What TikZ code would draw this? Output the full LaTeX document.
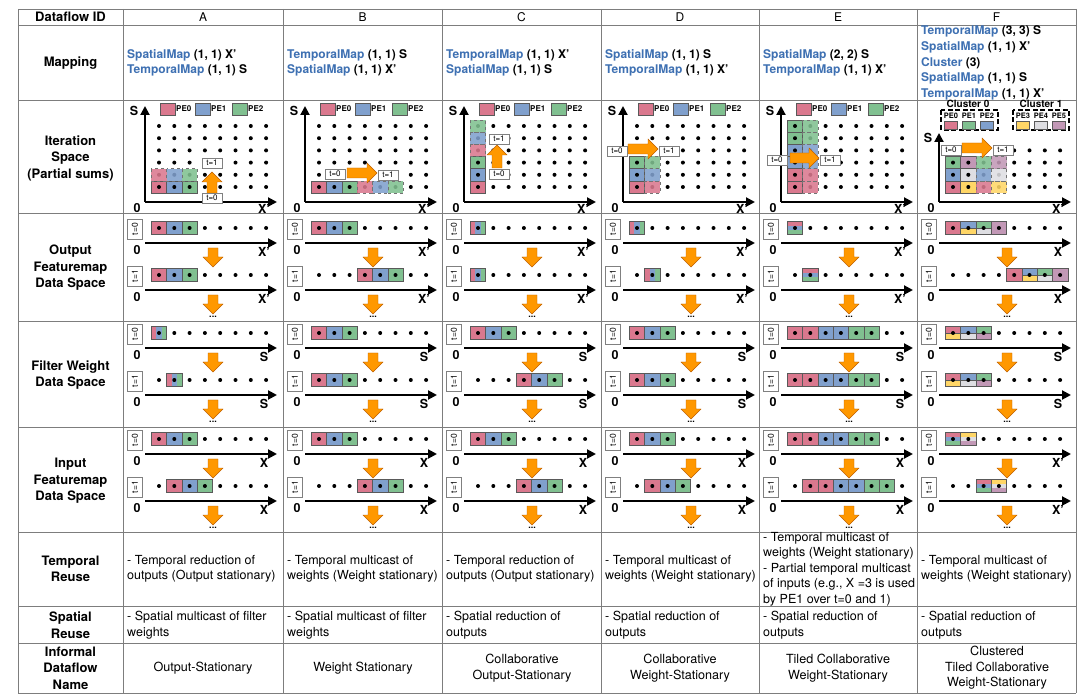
\documentclass[tikz,border=0pt]{standalone}
\usepackage{fontspec}
\setmainfont{TeX Gyre Heros}
\usepackage{xcolor}
\usepackage{tikz}
\usetikzlibrary{arrows.meta}

\definecolor{pezero}{RGB}{218,120,142}
\definecolor{peone}{RGB}{128,160,205}
\definecolor{petwo}{RGB}{128,192,144}
\definecolor{pethree}{RGB}{255,214,102}
\definecolor{pefour}{RGB}{222,222,226}
\definecolor{pefive}{RGB}{194,152,182}
\definecolor{mapblue}{RGB}{62,112,178}
\definecolor{gridgray}{RGB}{125,125,125}
\definecolor{arrorange}{RGB}{255,152,0}

\tikzset{
  gridline/.style={draw=gridgray, line width=0.7pt},
  rowhead/.style={font=\bfseries\fontsize{13}{16.5}\selectfont, align=center},
  colhead/.style={font=\fontsize{12}{14}\selectfont},
  maptext/.style={anchor=west, align=left, font=\bfseries\fontsize{12}{15.6}\selectfont, inner sep=0pt},
  reusetext/.style={anchor=west, align=left, font=\fontsize{12.5}{15.4}\selectfont, inner sep=0pt},
  nametext/.style={align=center, font=\fontsize{12.6}{15.6}\selectfont, inner sep=0pt},
  cellline/.style={draw=black!65, line width=0.5pt},
  ghost/.style={dashed, draw=black!55, fill opacity=0.88},
  axis/.style={line width=2pt, -{Triangle[length=9pt,width=9pt]}},
  axlabel/.style={font=\bfseries\fontsize{12.5}{13}\selectfont, inner sep=0pt},
  tbox/.style={draw=black!50, fill=white, font=\fontsize{8}{8}\selectfont, inner sep=0.5pt, minimum width=20pt, minimum height=10pt},
  ttall/.style={tbox, rotate=90, minimum height=15pt, font=\fontsize{8.5}{9}\selectfont},
  blk/.style={fill=arrorange, draw=orange!75!black, line width=0.4pt},
  pelabel/.style={font=\bfseries\fontsize{8}{8}\selectfont, inner sep=0.5pt, anchor=west},
  pelabelc/.style={font=\bfseries\fontsize{7.5}{8}\selectfont, inner sep=0pt},
  clusterlabel/.style={font=\bfseries\fontsize{10}{10}\selectfont, inner sep=0pt},
  clusterbox/.style={line width=1.6pt, dash pattern=on 5pt off 2.5pt},
  moredots/.style={font=\bfseries\fontsize{9}{9}\selectfont, inner sep=0pt}
}

\newcommand{\mapkw}[1]{\textcolor{mapblue}{#1}}

% block arrow: tail x, tail y, angle, length
\newcommand{\blkarrow}[4]{%
  \begin{scope}[shift={(#1,#2)},rotate=#3]
    \filldraw[blk] (0,-5) -- (#4-10,-5) -- (#4-10,-10) -- (#4,0) -- (#4-10,10) -- (#4-10,5) -- (0,5) -- cycle;
  \end{scope}}

% iteration space
\newcommand{\itcell}[4][]{\filldraw[cellline,fill=#4,#1] (28.35+15.3*#2,180.9-12.2*#3) rectangle ++(15.3,12.2);}
\newcommand{\itsolid}[3]{\itcell{#1}{#2}{#3}\fill (36+15.3*#1,187-12.2*#2) circle (2pt);}
\newcommand{\itghost}[3]{\itcell[ghost]{#1}{#2}{#3}}
\newcommand{\itgrid}[1]{\foreach \i in {0,...,7}{\foreach \j in {0,...,#1}{\fill (36+15.3*\i,187-12.2*\j) circle (2pt);}}}
\newcommand{\itaxes}[2]{%
  \coordinate (#1-org) at (22,202);
  \draw[axis] (#1-org) -- (22,#2);
  \draw[axis] (#1-org) -- (154,202);
  \node[axlabel] (#1-zero) at (14,208) {0};
  \node[axlabel] (#1-s) at (11,#2+5) {S};
  \node[axlabel] (#1-x) at (141,209) {X'};}
\newcommand{\pelegend}[1]{%
  \foreach \k/\c/\xx in {0/pezero/37,1/peone/72,2/petwo/109}{%
    \filldraw[cellline,fill=\c] (\xx,103) rectangle ++(15,12);
    \node[pelabel] (#1-pe\k) at (\xx+15.5,109) {PE\k};}}

% data spaces
\newcommand{\dcell}[3]{%
  \filldraw[cellline,fill=#3] (28.35+15.3*#1,#2-6.5) rectangle ++(15.3,13);
  \fill (36+15.3*#1,#2) circle (2pt);}
\newcommand{\cellrow}[3]{\foreach \c [count=\q from #1] in {#3}{\dcell{\q}{#2}{\c}}}
\newcommand{\dotrow}[2]{\foreach \i in {#1}{\fill (36+15.3*\i,#2) circle (2pt);}}
\newcommand{\dsplit}[4]{%
  \fill[#3] (28.35+15.3*#1,#2-6.5) rectangle ++(15.3,6.5);
  \fill[#4] (28.35+15.3*#1,#2) rectangle ++(15.3,6.5);
  \draw[cellline] (28.35+15.3*#1,#2-6.5) rectangle ++(15.3,13) (28.35+15.3*#1,#2) -- ++(15.3,0);
  \fill (36+15.3*#1,#2) circle (2pt);}
\newcommand{\dtri}[5]{%
  \fill[#3] (28.35+15.3*#1,#2-6.5) rectangle ++(15.3,4.34);
  \fill[#4] (28.35+15.3*#1,#2-2.17) rectangle ++(15.3,4.34);
  \fill[#5] (28.35+15.3*#1,#2+2.17) rectangle ++(15.3,4.33);
  \draw[cellline] (28.35+15.3*#1,#2-6.5) rectangle ++(15.3,13);
  \fill (36+15.3*#1,#2) circle (2pt);}
\newcommand{\dvert}[2]{%
  \fill[pezero] (28.35+15.3*#1,#2-6.5) rectangle ++(5.1,13);
  \fill[peone] (33.45+15.3*#1,#2-6.5) rectangle ++(5.1,13);
  \fill[petwo] (38.55+15.3*#1,#2-6.5) rectangle ++(5.1,13);
  \draw[cellline] (28.35+15.3*#1,#2-6.5) rectangle ++(15.3,13);
  \fill (36+15.3*#1,#2) circle (2pt);}
\newcommand{\dframe}[3]{%
  \draw[axis] (22,#2+15) -- (154,#2+15);
  \draw[axis] (22,#2+62) -- (154,#2+62);
  \node[ttall] (#1-t0) at (12,#2+1) {t=0};
  \node[ttall] (#1-t1) at (12,#2+48) {t=1};
  \node[axlabel] (#1-z0) at (14,#2+22) {0};
  \node[axlabel] (#1-z1) at (14,#2+69) {0};
  \node[axlabel] (#1-l0) at (141,#2+24) {#3};
  \node[axlabel] (#1-l1) at (141,#2+71) {#3};
  \blkarrow{90}{#2+20}{-90}{19}
  \blkarrow{90}{#2+67}{-90}{19}
  \node[moredots] (#1-more) at (90,#2+89) {...};}

\begin{document}
\begin{tikzpicture}[x=1pt,y=-1pt]
\useasboundingbox (0,0) rectangle (1090,700);

% Table
\foreach \yy in {9,25,100,213,321,427,532,606,643,693}
  \draw[gridline] (18,\yy) -- (1076,\yy);
\foreach \xx in {18,123,283,442,601,759,917,1076}
  \draw[gridline] (\xx,9) -- (\xx,693);

% Row heads
\node[rowhead] (hid) at (70.5,17) {Dataflow ID};
\node[rowhead] (hmap) at (70.5,63) {Mapping};
\node[rowhead] (hiter) at (70.5,158) {Iteration\\Space\\(Partial sums)};
\node[rowhead] (hout) at (70.5,268) {Output\\Featuremap\\Data Space};
\node[rowhead] (hfil) at (70.5,375) {Filter Weight\\Data Space};
\node[rowhead] (hin) at (70.5,481) {Input\\Featuremap\\Data Space};
\node[rowhead] (htemp) at (70.5,569) {Temporal\\Reuse};
\node[rowhead] (hspat) at (70.5,625) {Spatial\\Reuse};
\node[rowhead] (hname) at (70.5,668) {Informal\\Dataflow\\Name};

\foreach \name/\xx in {A/203,B/362.5,C/521.5,D/680,E/838,F/996.5}
  \node[colhead] (head\name) at (\xx,17) {\name};

% Column A
\begin{scope}[xshift=123pt]
\node[maptext] (A-map) at (4,63) {\mapkw{SpatialMap} (1, 1) X'\\\mapkw{TemporalMap} (1, 1) S};
\pelegend{A}
\itgrid{5}
\itaxes{A}{106}
\itsolid{0}{0}{pezero}\itsolid{1}{0}{peone}\itsolid{2}{0}{petwo}
\itghost{0}{1}{pezero}\itghost{1}{1}{peone}\itghost{2}{1}{petwo}
\blkarrow{89}{193}{90}{21}
\node[tbox] (A-it1) at (89,163) {t=1};
\node[tbox] (A-it0) at (89,198) {t=0};
\dframe{A-out}{228}{X'}
\cellrow{0}{228}{pezero,peone,petwo}\dotrow{3,...,7}{228}
\cellrow{0}{275}{pezero,peone,petwo}\dotrow{3,...,7}{275}
\dframe{A-fil}{333}{S}
\dvert{0}{333}\dotrow{1,...,7}{333}
\dotrow{0}{380}\dvert{1}{380}\dotrow{2,...,7}{380}
\dframe{A-in}{439}{X}
\cellrow{0}{439}{pezero,peone,petwo}\dotrow{3,...,7}{439}
\dotrow{0}{486}\cellrow{1}{486}{pezero,peone,petwo}\dotrow{4,...,7}{486}
\node[reusetext] (A-temp) at (4,569) {- Temporal reduction of\\outputs (Output stationary)};
\node[reusetext] (A-spat) at (4,625) {- Spatial multicast of filter\\weights};
\node[nametext] (A-name) at (80,668) {Output-Stationary};
\end{scope}

% Column B
\begin{scope}[xshift=283pt]
\node[maptext] (B-map) at (4,63) {\mapkw{TemporalMap} (1, 1) S\\\mapkw{SpatialMap} (1, 1) X'};
\pelegend{B}
\itgrid{5}
\itaxes{B}{106}
\itsolid{0}{0}{pezero}\itsolid{1}{0}{peone}\itsolid{2}{0}{petwo}
\itghost{3}{0}{pezero}\itghost{4}{0}{peone}\itghost{5}{0}{petwo}
\blkarrow{64}{173}{0}{30}
\node[tbox] (B-it0) at (52,174) {t=0};
\node[tbox] (B-it1) at (105,175) {t=1};
\dframe{B-out}{228}{X'}
\cellrow{0}{228}{pezero,peone,petwo}\dotrow{3,...,7}{228}
\dotrow{0,1,2}{275}\cellrow{3}{275}{pezero,peone,petwo}\dotrow{6,7}{275}
\dframe{B-fil}{333}{S}
\cellrow{0}{333}{pezero,peone,petwo}\dotrow{3,...,7}{333}
\cellrow{0}{380}{pezero,peone,petwo}\dotrow{3,...,7}{380}
\dframe{B-in}{439}{X}
\cellrow{0}{439}{pezero,peone,petwo}\dotrow{3,...,7}{439}
\dotrow{0,1,2}{486}\cellrow{3}{486}{pezero,peone,petwo}\dotrow{6,7}{486}
\node[reusetext] (B-temp) at (4,569) {- Temporal multicast of\\weights (Weight stationary)};
\node[reusetext] (B-spat) at (4,625) {- Spatial multicast of filter\\weights};
\node[nametext] (B-name) at (80,668) {Weight Stationary};
\end{scope}

% Column C
\begin{scope}[xshift=442pt]
\node[maptext] (C-map) at (4,63) {\mapkw{TemporalMap} (1, 1) X'\\\mapkw{SpatialMap} (1, 1) S};
\pelegend{C}
\itgrid{5}
\itaxes{C}{106}
\itsolid{0}{0}{pezero}\itsolid{0}{1}{peone}\itsolid{0}{2}{petwo}
\itghost{0}{3}{pezero}\itghost{0}{4}{peone}\itghost{0}{5}{petwo}
\blkarrow{55}{168}{90}{23}
\node[tbox] (C-it1) at (57,139) {t=1};
\node[tbox] (C-it0) at (57,174) {t=0};
\dframe{C-out}{228}{X'}
\dvert{0}{228}\dotrow{1,...,7}{228}
\dvert{0}{275}\dotrow{1,...,7}{275}
\dframe{C-fil}{333}{S}
\cellrow{0}{333}{pezero,peone,petwo}\dotrow{3,...,7}{333}
\dotrow{0,1,2}{380}\cellrow{3}{380}{pezero,peone,petwo}\dotrow{6,7}{380}
\dframe{C-in}{439}{X}
\cellrow{0}{439}{pezero,peone,petwo}\dotrow{3,...,7}{439}
\dotrow{0,1,2}{486}\cellrow{3}{486}{pezero,peone,petwo}\dotrow{6,7}{486}
\node[reusetext] (C-temp) at (4,569) {- Temporal reduction of\\outputs (Output stationary)};
\node[reusetext] (C-spat) at (4,625) {- Spatial reduction of\\outputs};
\node[nametext] (C-name) at (80,668) {Collaborative\\Output-Stationary};
\end{scope}

% Column D
\begin{scope}[xshift=601pt]
\node[maptext] (D-map) at (4,63) {\mapkw{SpatialMap} (1, 1) S\\\mapkw{TemporalMap} (1, 1) X'};
\pelegend{D}
\itgrid{5}
\itaxes{D}{106}
\itsolid{0}{0}{pezero}\itsolid{0}{1}{peone}\itsolid{0}{2}{petwo}
\itghost{1}{0}{pezero}\itghost{1}{1}{peone}\itghost{1}{2}{petwo}
\blkarrow{27}{149}{0}{30}
\node[tbox] (D-it0) at (16,151) {t=0};
\node[tbox] (D-it1) at (68,151) {t=1};
\dframe{D-out}{228}{X'}
\dvert{0}{228}\dotrow{1,...,7}{228}
\dotrow{0}{275}\dvert{1}{275}\dotrow{2,...,7}{275}
\dframe{D-fil}{333}{S}
\cellrow{0}{333}{pezero,peone,petwo}\dotrow{3,...,7}{333}
\cellrow{0}{380}{pezero,peone,petwo}\dotrow{3,...,7}{380}
\dframe{D-in}{439}{X}
\cellrow{0}{439}{pezero,peone,petwo}\dotrow{3,...,7}{439}
\dotrow{0}{486}\cellrow{1}{486}{pezero,peone,petwo}\dotrow{4,...,7}{486}
\node[reusetext] (D-temp) at (4,569) {- Temporal multicast of\\weights (Weight stationary)};
\node[reusetext] (D-spat) at (4,625) {- Spatial reduction of\\outputs};
\node[nametext] (D-name) at (79,668) {Collaborative\\Weight-Stationary};
\end{scope}

% Column E
\begin{scope}[xshift=759pt]
\node[maptext] (E-map) at (4,63) {\mapkw{SpatialMap} (2, 2) S\\\mapkw{TemporalMap} (1, 1) X'};
\pelegend{E}
\itgrid{5}
\itaxes{E}{106}
\foreach \j/\c in {0/pezero,1/pezero,2/peone,3/peone,4/petwo,5/petwo}{\itsolid{0}{\j}{\c}\itghost{1}{\j}{\c}}
\blkarrow{31}{158}{0}{29}
\node[tbox] (E-it0) at (18,160) {t=0};
\node[tbox] (E-it1) at (71,160) {t=1};
\dframe{E-out}{228}{X'}
\dtri{0}{228}{pezero}{peone}{petwo}\dotrow{1,...,7}{228}
\dotrow{0}{275}\dtri{1}{275}{pezero}{peone}{petwo}\dotrow{2,...,7}{275}
\dframe{E-fil}{333}{S}
\cellrow{0}{333}{pezero,pezero,peone,peone,petwo,petwo}\dotrow{6,7}{333}
\cellrow{0}{380}{pezero,pezero,peone,peone,petwo,petwo}\dotrow{6,7}{380}
\dframe{E-in}{439}{X}
\cellrow{0}{439}{pezero,pezero,peone,peone,petwo,petwo}\dotrow{6,7}{439}
\dotrow{0}{486}\cellrow{1}{486}{pezero,pezero,peone,peone,petwo,petwo}\dotrow{7}{486}
\node[reusetext] (E-temp) at (4,569) {- Temporal multicast of\\weights (Weight stationary)\\- Partial temporal multicast\\of inputs (e.g., X =3 is used\\by PE1 over t=0 and 1)};
\node[reusetext] (E-spat) at (4,625) {- Spatial reduction of\\outputs};
\node[nametext] (E-name) at (79,668) {Tiled Collaborative\\Weight-Stationary};
\end{scope}

% Column F
\begin{scope}[xshift=917pt]
\node[maptext] (F-map) at (4,63) {\mapkw{TemporalMap} (3, 3) S\\\mapkw{SpatialMap} (1, 1) X'\\\mapkw{Cluster} (3)\\\mapkw{SpatialMap} (1, 1) S\\\mapkw{TemporalMap} (1, 1) X'};
\node[clusterlabel] (F-cl0) at (51,104) {Cluster 0};
\draw[clusterbox] (24,110) rectangle (81,130);
\foreach \k/\c/\xx in {0/pezero/34,1/petwo/52,2/peone/70}{%
  \node[pelabelc] (F-pe\k) at (\xx,116) {PE\k};
  \filldraw[cellline,fill=\c] (\xx-6.5,121) rectangle ++(13,8);}
\node[clusterlabel] (F-cl1) at (124,104) {Cluster 1};
\draw[clusterbox] (96,110) rectangle (152,130);
\foreach \k/\c/\xx in {3/pethree/106,4/pefour/124,5/pefive/142}{%
  \node[pelabelc] (F-pe\k) at (\xx,116) {PE\k};
  \filldraw[cellline,fill=\c] (\xx-6.5,121) rectangle ++(13,8);}
\itgrid{3}
\itaxes{F}{133}
\itsolid{0}{0}{pezero}\itsolid{0}{1}{peone}\itsolid{0}{2}{petwo}
\itsolid{1}{0}{pethree}\itsolid{1}{1}{pefour}\itsolid{1}{2}{pefive}
\itghost{2}{0}{pezero}\itghost{2}{1}{peone}\itghost{2}{2}{petwo}
\itghost{3}{0}{pethree}\itghost{3}{1}{pefour}\itghost{3}{2}{pefive}
\blkarrow{45}{148}{0}{30}
\node[tbox] (F-it0) at (34,150) {t=0};
\node[tbox] (F-it1) at (86,150) {t=1};
\dframe{F-out}{228}{X}
\dcell{0}{228}{pezero}\dsplit{1}{228}{peone}{pethree}\dsplit{2}{228}{petwo}{pefour}\dcell{3}{228}{pefive}\dotrow{4,...,7}{228}
\dotrow{0,...,3}{275}\dcell{4}{275}{pezero}\dsplit{5}{275}{peone}{pethree}\dsplit{6}{275}{petwo}{pefour}\dcell{7}{275}{pefive}
\dframe{F-fil}{333}{S}
\dsplit{0}{333}{pezero}{pethree}\dsplit{1}{333}{peone}{pefour}\dsplit{2}{333}{petwo}{pefive}\dotrow{3,...,7}{333}
\dsplit{0}{380}{pezero}{pethree}\dsplit{1}{380}{peone}{pefour}\dsplit{2}{380}{petwo}{pefive}\dotrow{3,...,7}{380}
\dframe{F-in}{439}{X'}
\dtri{0}{439}{pezero}{peone}{petwo}\dtri{1}{439}{pethree}{pefour}{pefive}\dotrow{2,...,7}{439}
\dotrow{0,1}{486}\dtri{2}{486}{pezero}{peone}{petwo}\dtri{3}{486}{pethree}{pefour}{pefive}\dotrow{4,...,7}{486}
\node[reusetext] (F-temp) at (4,569) {- Temporal multicast of\\weights (Weight stationary)};
\node[reusetext] (F-spat) at (4,625) {- Spatial reduction of\\outputs};
\node[nametext] (F-name) at (80,668) {Clustered\\Tiled Collaborative\\Weight-Stationary};
\end{scope}

\end{tikzpicture}
\end{document}
